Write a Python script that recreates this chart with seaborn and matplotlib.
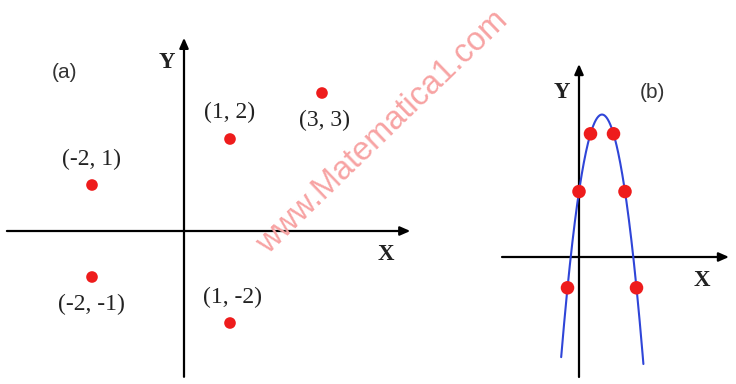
import numpy as np
import pandas as pd
import seaborn as sns
import matplotlib
matplotlib.use("Agg")
import matplotlib.pyplot as plt

# Panel (a): isolated points in the plane
pts_x = [1, 3, -2, -2, 1]
pts_y = [2, 3, 1, -1, -2]
pts_labels = ["(1, 2)", "(3, 3)", "(-2, 1)", "(-2, -1)", "(1, -2)"]
# label offsets in data units (dx, dy) relative to each point
label_dx = [0.0, 0.05, -0.02, -0.02, 0.05]
label_dy = [0.57, -0.6, 0.55, -0.6, 0.55]

# Panel (b): points lying on a downward parabola y = a x^2 + b x + c
curve_x = [-1, 0, 1, 3, 4, 5]
curve_y = [-1.6, 3.4, 6.4, 6.4, 3.4, -1.6]
coef_a, coef_b, coef_c = -1.0, 4.0, 3.4
curve_range = (-1.55, 5.6)

sns.set_theme(style="white")
plt.rcParams["font.family"] = ["Liberation Serif", "DejaVu Sans"]

W, H = 736, 384
fig = plt.figure(figsize=(W / 100, H / 100), dpi=100)
fig.patch.set_facecolor("white")

serif = "Liberation Serif"
sans = "Liberation Sans"
red = "#ee1c1c"
blue = "#2f45d8"


def draw_axis(ax, x0, x1, y0, y1):
    kw = dict(arrowstyle="-|>,head_length=0.5,head_width=0.22", color="black",
              lw=1.6, shrinkA=0, shrinkB=0, mutation_scale=12)
    ax.annotate("", xy=(x1, 0), xytext=(x0, 0), arrowprops=kw, zorder=1)
    ax.annotate("", xy=(0, y1), xytext=(0, y0), arrowprops=kw, zorder=1)


def clean(ax):
    ax.set_axis_off()
    ax.set_facecolor("none")


# ---- panel (a): 46 px per unit, origin at (184, 231) px
ax_a = fig.add_axes([0, 0, 480 / W, 1])
clean(ax_a)
ax_a.set_xlim((0 - 184) / 46, (480 - 184) / 46)
ax_a.set_ylim((231 - 384) / 46, (231 - 0) / 46)
draw_axis(ax_a, -3.85, 4.92, -3.17, 4.2)
df_a = pd.DataFrame({"x": pts_x, "y": pts_y})
sns.scatterplot(data=df_a, x="x", y="y", ax=ax_a, color=red, s=70,
                edgecolor="none", zorder=3)
for x, y, t, dx, dy in zip(pts_x, pts_y, pts_labels, label_dx, label_dy):
    ax_a.text(x + dx, y + dy, t, ha="center", va="center", fontsize=17,
              family=serif, color="#222222")
ax_a.text(-2.6, 3.45, "(a)", ha="center", va="center", fontsize=15,
          family=sans, color="#333333")
ax_a.text(-0.38, 3.67, "Y", ha="center", va="center", fontsize=16.5,
          family=serif, fontweight="bold", color="#222222")
ax_a.text(4.38, -0.52, "X", ha="center", va="center", fontsize=16.5,
          family=serif, fontweight="bold", color="#222222")

# ---- panel (b): 11.5 px per x unit, 19.25 px per y unit, origin at (579, 257) px
sx, sy, ox, oy = 11.5, 19.25, 579, 257
ax_b = fig.add_axes([480 / W, 0, (W - 480) / W, 1])
clean(ax_b)
ax_b.set_xlim((480 - ox) / sx, (W - ox) / sx)
ax_b.set_ylim((oy - 384) / sy, (oy - 0) / sy)
draw_axis(ax_b, (502 - ox) / sx, (729 - ox) / sx, (oy - 377) / sy, (oy - 64) / sy)
xx = np.linspace(curve_range[0], curve_range[1], 200)
df_curve = pd.DataFrame({"x": xx, "y": coef_a * xx ** 2 + coef_b * xx + coef_c})
sns.lineplot(data=df_curve, x="x", y="y", ax=ax_b, color=blue, lw=1.5,
             sort=False, zorder=2)
df_b = pd.DataFrame({"x": curve_x, "y": curve_y})
sns.scatterplot(data=df_b, x="x", y="y", ax=ax_b, color=red, s=95,
                edgecolor="none", zorder=3)
ax_b.text((562 - ox) / sx, (oy - 92) / sy, "Y", ha="center", va="center",
          fontsize=16.5, family=serif, fontweight="bold", color="#222222")
ax_b.text((652 - ox) / sx, (oy - 92) / sy, "(b)", ha="center", va="center",
          fontsize=15, family=sans, color="#333333")
ax_b.text((702 - ox) / sx, (oy - 281) / sy, "X", ha="center", va="center",
          fontsize=16.5, family=serif, fontweight="bold", color="#222222")

# watermark across the middle
fig.text(383 / W, 1 - 132 / H, "www.Matematica1.com", rotation=44,
         ha="center", va="center", fontsize=23.5, family=sans,
         color="#f7a3a3", zorder=0, rotation_mode="anchor")

fig.savefig("out.png", dpi=100, facecolor="white")
